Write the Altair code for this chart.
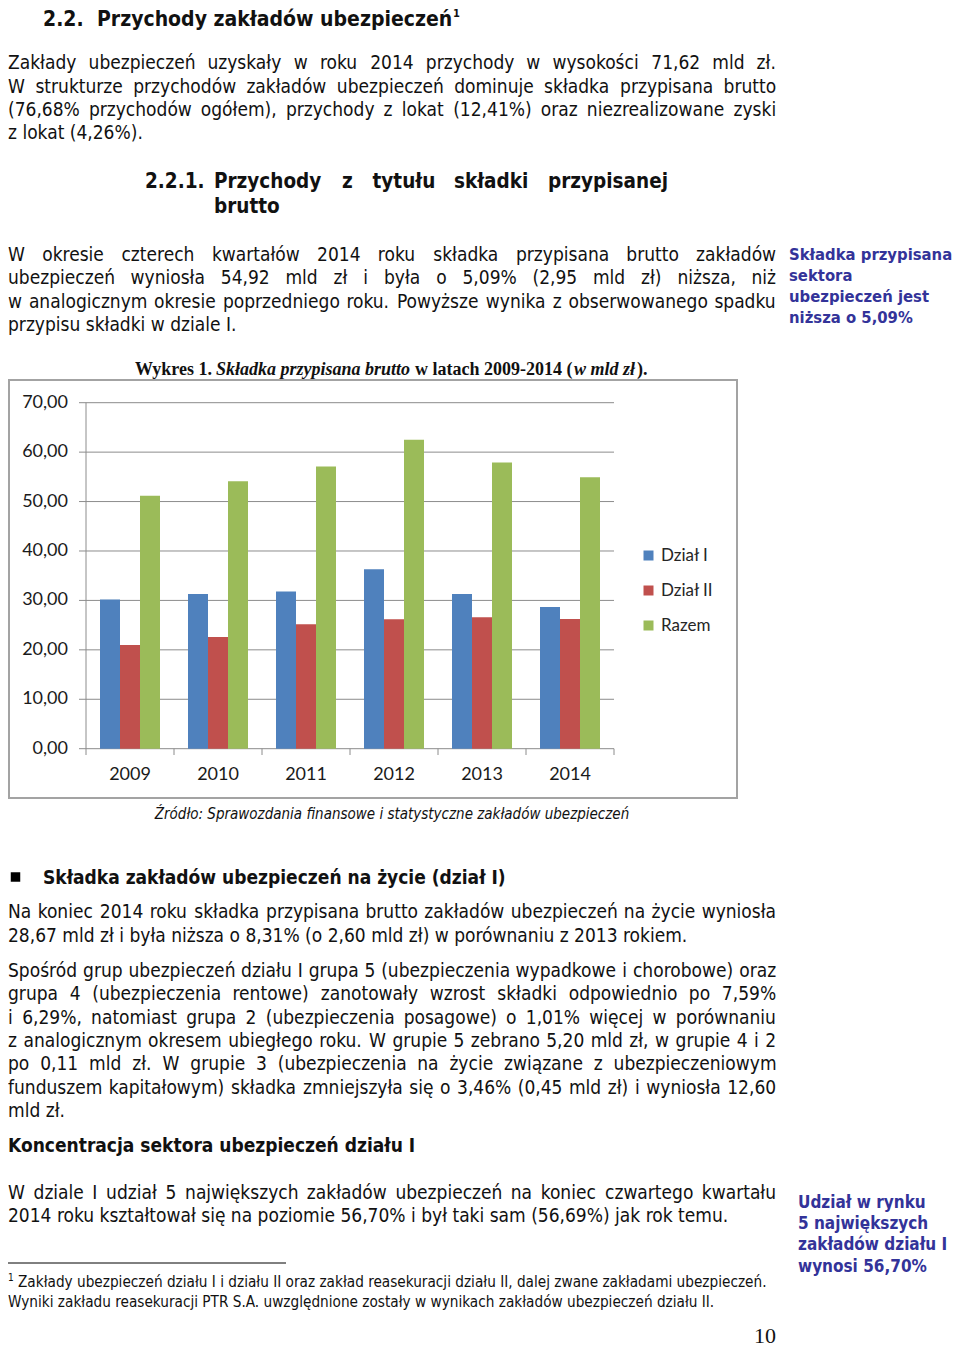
import altair as alt
import pandas as pd

# ---------------- data ----------------
years = ["2009", "2010", "2011", "2012", "2013", "2014"]
series = ["Dział I", "Dział II", "Razem"]
dzial_1 = [30.2, 31.3, 31.8, 36.3, 31.3, 28.67]
dzial_2 = [21.0, 22.6, 25.2, 26.2, 26.6, 26.25]
razem = [51.2, 54.1, 57.1, 62.5, 57.9, 54.92]
y_ticks = [0, 10, 20, 30, 40, 50, 60, 70]
y_tick_labels = ["0,00", "10,00", "20,00", "30,00", "40,00", "50,00", "60,00", "70,00"]
colors = ["#4F81BD", "#C0504D", "#9BBB59"]

# ---------------- page text ----------------
para_1 = [
    "Zakłady ubezpieczeń uzyskały w roku 2014 przychody w wysokości 71,62  mld zł.",
    "W strukturze przychodów zakładów ubezpieczeń dominuje składka przypisana brutto",
    "(76,68% przychodów ogółem), przychody z lokat (12,41%) oraz niezrealizowane zyski",
    "z lokat (4,26%).",
]
para_2 = [
    "W okresie czterech kwartałów 2014 roku składka przypisana brutto zakładów",
    "ubezpieczeń wyniosła 54,92 mld zł i była o 5,09% (2,95 mld zł) niższa, niż",
    "w analogicznym okresie poprzedniego roku. Powyższe wynika z obserwowanego spadku",
    "przypisu składki w dziale I.",
]
para_3 = [
    "Na koniec 2014 roku składka przypisana brutto zakładów ubezpieczeń na życie wyniosła",
    "28,67 mld zł i była niższa o 8,31% (o 2,60 mld zł) w porównaniu z  2013 rokiem.",
]
para_4 = [
    "Spośród grup ubezpieczeń działu I grupa 5 (ubezpieczenia wypadkowe i chorobowe) oraz",
    "grupa 4 (ubezpieczenia rentowe) zanotowały wzrost składki odpowiednio po 7,59%",
    "i 6,29%, natomiast grupa 2 (ubezpieczenia posagowe) o 1,01% więcej w porównaniu",
    "z analogicznym okresem ubiegłego roku. W grupie 5 zebrano 5,20 mld zł, w grupie 4 i 2",
    "po 0,11 mld zł. W grupie 3 (ubezpieczenia na życie związane z ubezpieczeniowym",
    "funduszem kapitałowym) składka zmniejszyła się o 3,46% (0,45 mld zł) i wyniosła 12,60",
    "mld zł.",
]
para_5 = [
    "W dziale I udział 5 największych zakładów ubezpieczeń na koniec czwartego kwartału",
    "2014 roku kształtował się na poziomie 56,70% i był taki sam (56,69%) jak rok temu.",
]
note_1 = ["Składka przypisana", "sektora", "ubezpieczeń jest", "niższa o 5,09%"]
note_2 = ["Udział w rynku", "5 największych", "zakładów działu I", "wynosi 56,70%"]
footnote = [
    "Zakłady ubezpieczeń działu I i działu II oraz zakład reasekuracji działu II, dalej zwane zakładami ubezpieczeń.",
    "Wyniki zakładu reasekuracji PTR S.A. uwzględnione zostały w wynikach zakładów ubezpieczeń działu II.",
]

# ---------------- layout helpers ----------------
DX, DY = -2, -6          # reference page coords -> chart coords
BODY = "DejaVu Sans Condensed"
SERIF = "Liberation Serif"
CHART_FONT = "Lato"
INK = "#111111"
NOTE = "#333399"
BODY_SIZE = 19
LEFT, RIGHT = 2, 770     # text column edges (reference coords)

# approximate advance widths (units / 2048) of the DejaVu/Vera sans design
_W = {" ": 651, "!": 823, "(": 799, ")": 799, ",": 651, "-": 739, ".": 651, "%": 1946,
      ":": 690, "/": 690}
for _c in "0123456789":
    _W[_c] = 1303
_W.update(dict(zip("ABCDEFGHIJKLMNOPQRSTUVWXYZ",
                   [1401, 1405, 1430, 1577, 1294, 1178, 1587, 1540, 604, 604, 1343, 1141, 1767,
                    1532, 1612, 1235, 1612, 1423, 1300, 1251, 1499, 1401, 2025, 1403, 1251, 1403])))
_W.update(dict(zip("abcdefghijklmnopqrstuvwxyz",
                   [1255, 1300, 1126, 1300, 1260, 721, 1300, 1298, 569, 569, 1186, 569, 1995,
                    1298, 1253, 1300, 1300, 842, 1067, 803, 1298, 1212, 1675, 1212, 1212, 1075])))
_W.update({"ą": 1255, "ę": 1260, "ó": 1253, "ś": 1067, "ć": 1126, "ń": 1298, "ż": 1075,
           "ź": 1075, "ł": 604, "Ż": 1403, "Ś": 1300, "Ź": 1403, "Ł": 1141})


def _raw(s):
    return sum(_W.get(ch, 1200) for ch in s) / 2048.0


# calibrate the estimate on a line whose rendered width was measured (720 px at 19 px)
_K = 720.0 / (_raw(para_5[1]) * BODY_SIZE)


def est(s, size=BODY_SIZE):
    return _raw(s) * size * _K


def px(x):
    return x + DX


def py(y):
    return y + DY


def text_layer(rows, font=BODY, size=BODY_SIZE, weight="normal", style="normal",
               color=INK, align="left"):
    df = pd.DataFrame([{"x": px(x), "y": py(y), "t": t} for x, y, t in rows])
    return alt.Chart(df).mark_text(
        align=align, baseline="middle", font=font, fontSize=size,
        fontWeight=weight, fontStyle=style, color=color
    ).encode(
        x=alt.X("x:Q", scale=None, axis=None),
        y=alt.Y("y:Q", scale=None, axis=None),
        text="t:N",
    )


def paragraph_rows(lines, ys, size=BODY_SIZE, justify_last=False):
    rows = []
    for i, (line, y) in enumerate(zip(lines, ys)):
        last = i == len(lines) - 1
        words = line.split()
        if (last and not justify_last) or len(words) < 2:
            rows.append((LEFT, y, line))
            continue
        natural = sum(est(w, size) for w in words)
        gap = (RIGHT - LEFT - natural) / (len(words) - 1)
        x = LEFT
        for w in words:
            rows.append((x, y, w))
            x += est(w, size) + gap
    return rows


layers = []

# ---------------- page text (top) ----------------
layers.append(text_layer([(37, 18, "2.2."), (91, 18, "Przychody zakładów ubezpieczeń")],
                         size=21, weight="bold"))
layers.append(text_layer([(447, 12, "1")], size=11, weight="bold"))
layers.append(text_layer(paragraph_rows(para_1, [61, 85, 108, 131])))
layers.append(text_layer([
    (139, 180, "2.2.1."), (208, 180, "Przychody"), (336, 180, "z"), (366.5, 180, "tytułu"),
    (448, 180, "składki"), (542, 180, "przypisanej"), (208, 205, "brutto"),
], size=20.5, weight="bold"))
layers.append(text_layer(paragraph_rows(para_2, [253, 276, 300, 323])))
layers.append(text_layer([(783, y, t) for y, t in zip([253, 274, 295, 316], note_1)],
                         size=16.5, weight="bold", color=NOTE))

# ---------------- chart ----------------
frame = alt.Chart(pd.DataFrame({"a": [0]})).mark_rect(
    fill="white", stroke="#a3a3a3", strokeWidth=2
).encode(x=alt.value(px(3)), x2=alt.value(px(731)), y=alt.value(py(378)), y2=alt.value(py(796)))
layers.append(frame)

xscale = alt.Scale(domain=years, range=[px(80), px(608)], paddingInner=0, paddingOuter=0)
yscale = alt.Scale(domain=[0, 70], range=[py(746.7), py(400.7)])
AX = "#8c8c8c"

grid = alt.Chart(pd.DataFrame({"tick": y_ticks})).mark_rule(color=AX, strokeWidth=1).encode(
    y=alt.Y("tick:Q", scale=yscale, axis=None), x=alt.value(px(73)), x2=alt.value(px(608)))
layers.append(grid)

yline = alt.Chart(pd.DataFrame({"lo": [0], "hi": [70]})).mark_rule(color=AX, strokeWidth=1).encode(
    x=alt.value(px(80)), y=alt.Y("lo:Q", scale=yscale, axis=None), y2="hi:Q")
layers.append(yline)

xticks = alt.Chart(pd.DataFrame({"year": years})).mark_rule(color=AX, strokeWidth=1).encode(
    x=alt.X("year:N", scale=xscale, axis=None, bandPosition=0),
    y=alt.value(py(746.7)), y2=alt.value(py(753)))
xticks_end = alt.Chart(pd.DataFrame({"year": years[-1:]})).mark_rule(color=AX, strokeWidth=1).encode(
    x=alt.X("year:N", scale=xscale, axis=None, bandPosition=1),
    y=alt.value(py(746.7)), y2=alt.value(py(753)))
layers += [xticks, xticks_end]

rows = []
for i, yr in enumerate(years):
    rows.append({"year": yr, "series": series[0], "value": dzial_1[i]})
    rows.append({"year": yr, "series": series[1], "value": dzial_2[i]})
    rows.append({"year": yr, "series": series[2], "value": razem[i]})
bar_df = pd.DataFrame(rows)

bars = alt.Chart(bar_df).mark_bar().encode(
    x=alt.X("year:N", scale=xscale, axis=None),
    xOffset=alt.XOffset("series:N", sort=series,
                        scale=alt.Scale(domain=series, paddingInner=0, paddingOuter=0.7)),
    y=alt.Y("value:Q", scale=yscale, axis=None),
    color=alt.Color("series:N", sort=series,
                    scale=alt.Scale(domain=series, range=colors),
                    legend=alt.Legend(title=None, orient="none", legendX=px(634), legendY=py(545),
                                      symbolType="square", symbolSize=100,
                                      symbolStrokeWidth=0, labelFont=CHART_FONT,
                                      labelFontSize=17, labelColor="#262626",
                                      rowPadding=17, padding=0, labelOffset=4)),
)
layers.append(bars)

ylabels = alt.Chart(pd.DataFrame({"tick": y_ticks, "lab": y_tick_labels})).mark_text(
    align="right", baseline="middle", font=CHART_FONT, fontSize=18, color="#1a1a1a"
).encode(y=alt.Y("tick:Q", scale=yscale, axis=None), x=alt.value(px(62)), text="lab:N")
layers.append(ylabels)

xlabels = alt.Chart(pd.DataFrame({"year": years})).mark_text(
    align="center", baseline="middle", font=CHART_FONT, fontSize=18, color="#1a1a1a"
).encode(x=alt.X("year:N", scale=xscale, axis=None), y=alt.value(py(773)), text="year:N")
layers.append(xlabels)

# chart title (mixed bold / bold-italic) and source
layers.append(text_layer([(129, 368, "Wykres 1."), (409, 368, "w latach 2009-2014 ("),
                          (631, 368, ").")], font=SERIF, size=18, weight="bold"))
layers.append(text_layer([(210, 368, "Składka przypisana brutto"), (568, 368, "w mld zł")],
                         font=SERIF, size=18, weight="bold", style="italic"))
layers.append(text_layer([(386, 812, "Źródło: Sprawozdania finansowe i statystyczne zakładów ubezpieczeń")],
                         size=15, style="italic", align="center"))

# ---------------- page text (bottom) ----------------
bullet = alt.Chart(pd.DataFrame({"a": [0]})).mark_square(size=90, color="#000000", opacity=1).encode(
    x=alt.value(px(9.5)), y=alt.value(py(875)))
layers.append(bullet)
layers.append(text_layer([(37, 876, "Składka zakładów ubezpieczeń na życie (dział I)")],
                         size=19, weight="bold"))
layers.append(text_layer(
    paragraph_rows(para_3, [910, 934])
    + paragraph_rows(para_4, [969, 992, 1016, 1039, 1062, 1086, 1109])
    + paragraph_rows(para_5, [1191, 1214])
))
layers.append(text_layer([(2, 1144, "Koncentracja sektora ubezpieczeń działu I")],
                         size=19, weight="bold"))
layers.append(text_layer([(792, y, t) for y, t in zip([1201, 1222, 1243, 1265], note_2)],
                         size=17, weight="bold", color=NOTE))

fnrule = alt.Chart(pd.DataFrame({"a": [0]})).mark_rule(color="#000000", strokeWidth=1).encode(
    x=alt.value(px(2)), x2=alt.value(px(280)), y=alt.value(py(1261)))
layers.append(fnrule)
layers.append(text_layer([(2, 1276, "1")], size=10))
layers.append(text_layer([(12, 1280, footnote[0]), (2, 1300, footnote[1])], size=15.2))
layers.append(text_layer([(759, 1334, "10")], font=SERIF, size=22, align="center"))

chart = alt.layer(*layers).resolve_scale(
    x="independent", y="independent"
).properties(
    width=944, height=1341, padding=0,
    autosize=alt.AutoSizeParams(type="none"),
    background="white",
).configure_view(stroke=None)

chart.save("out.html", embed_options={"renderer": "svg", "actions": False})
